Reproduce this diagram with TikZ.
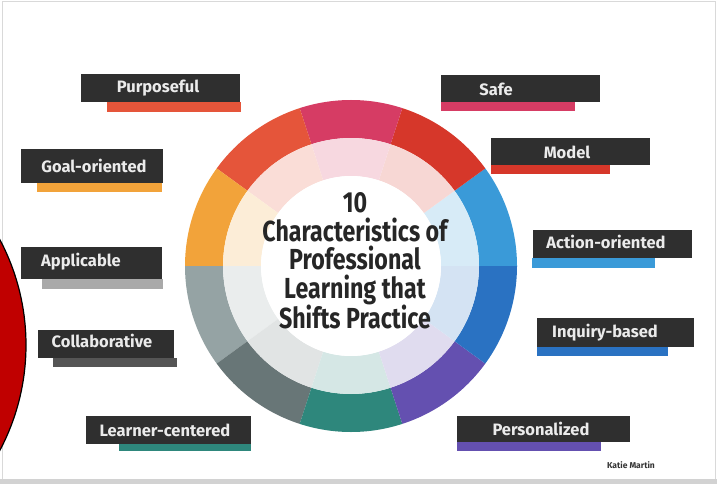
\documentclass[tikz,border=0pt]{standalone}
\usepackage{fontspec}
\setmainfont{Fira Sans}
\newfontfamily\titlefont[FakeStretch=0.8]{Fira Sans}
\usetikzlibrary{calc}
\definecolor{boxdark}{HTML}{2F2F2F}
\definecolor{cAction}{HTML}{3A9AD8}
\definecolor{cModel}{HTML}{D6372A}
\definecolor{cSafe}{HTML}{D63C64}
\definecolor{cPurp}{HTML}{E5553A}
\definecolor{cGoal}{HTML}{F2A33A}
\definecolor{cAppl}{HTML}{95A3A4}
\definecolor{cColl}{HTML}{687677}
\definecolor{cLearn}{HTML}{2E877C}
\definecolor{cPers}{HTML}{6450B0}
\definecolor{cInq}{HTML}{2A72C2}
\definecolor{cApplBar}{HTML}{A9A9A9}
\definecolor{cCollBar}{HTML}{555555}
\definecolor{cRed}{HTML}{C00000}
\tikzset{
  lblbox/.style={fill=boxdark, inner sep=0pt, outer sep=0pt},
  lbltext/.style={text=white!92!black, font=\bfseries\fontsize{16.5}{18}\selectfont, inner sep=0pt},
}
\newcommand{\labelset}[9]{%
  % #1 name, #2 x1, #3 y1, #4 x2, #5 y2 (box), #6 bar x1, #7 bar x2, #8 bar y2, #9 colour
  \fill[#9] (#6,#5) rectangle (#7,#8);
  \node[lblbox, minimum width={#4-#2}, minimum height={#5-#3}] (#1) at ({(#2+#4)/2},{(#3+#5)/2}) {};
}
\begin{document}
\begin{tikzpicture}[x=1pt,y=-1pt]
\useasboundingbox (0,0) rectangle (717,484);
\fill[white] (0,0) rectangle (717,484);
% frame
\draw[gray!30, line width=1pt] (2,2) rectangle (715,480);
\fill[gray!35] (0,479) rectangle (717,484);

% ring
\begin{scope}[shift={(351,266)}, yscale=-1]
  \foreach \a/\c in {0/cAction,36/cModel,72/cSafe,108/cPurp,144/cGoal,180/cAppl,216/cColl,252/cLearn,288/cPers,324/cInq}{
    \fill[\c] (\a:166) arc[start angle=\a, end angle=\a+36, radius=166] -- ({\a+36}:128) arc[start angle=\a+36, end angle=\a, radius=128] -- cycle;
    \fill[\c!20] (\a:128) arc[start angle=\a, end angle=\a+36, radius=128] -- ({\a+36}:90) arc[start angle=\a+36, end angle=\a, radius=90] -- cycle;
  }
  \fill[white] (0,0) circle[radius=90];
\end{scope}
\node[align=center, text=black!85, font=\titlefont\bfseries\fontsize{29}{28.5}\selectfont] (title) at (355,261)
  {10\\Characteristics of\\Professional\\Learning that\\Shifts Practice};

% labels: bars and boxes
\labelset{bPurp}{81}{74}{240}{102}{107}{241}{112}{cPurp}
\labelset{bGoal}{21}{149}{163}{183}{37}{162}{192}{cGoal}
\labelset{bAppl}{21}{247}{162}{279}{42}{163}{289}{cApplBar}
\labelset{bColl}{38}{330}{174}{358}{53}{177}{367}{cCollBar}
\labelset{bLearn}{86}{416}{251}{444}{119}{251}{451}{cLearn}
\labelset{bSafe}{441}{75}{600}{102}{441}{575}{111}{cSafe}
\labelset{bModel}{491}{138}{650}{165}{491}{610}{174}{cModel}
\labelset{bAction}{533}{230}{692}{258}{532}{655}{268}{cAction}
\labelset{bInq}{537}{318}{694}{347}{537}{668}{356}{cInq}
\labelset{bPers}{457}{416}{630}{442}{457}{601}{451}{cPers}

\node[lbltext] (tPurp) at (158,88) {Purposeful};
\node[lbltext] (tGoal) at (94,166) {Goal-oriented};
\node[lbltext] (tAppl) at (81,262) {Applicable};
\node[lbltext] (tColl) at (102,341) {Collaborative};
\node[lbltext] (tLearn) at (165,430) {Learner-centered};
\node[lbltext] (tSafe) at (496,89) {Safe};
\node[lbltext] (tModel) at (567,152) {Model};
\node[lbltext] (tAction) at (606,242) {Action-oriented};
\node[lbltext] (tInq) at (605,333) {Inquiry-based};
\node[lbltext] (tPers) at (541,429) {Personalized};

% signature
\node[font=\bfseries\fontsize{8.5}{9}\selectfont, text=black!80, inner sep=0pt] (sig) at (631,465) {Katie Martin};

% red shape on the left
\draw[fill=cRed, line width=1.2pt] (-199,345) circle[radius=225];
\end{tikzpicture}
\end{document}
